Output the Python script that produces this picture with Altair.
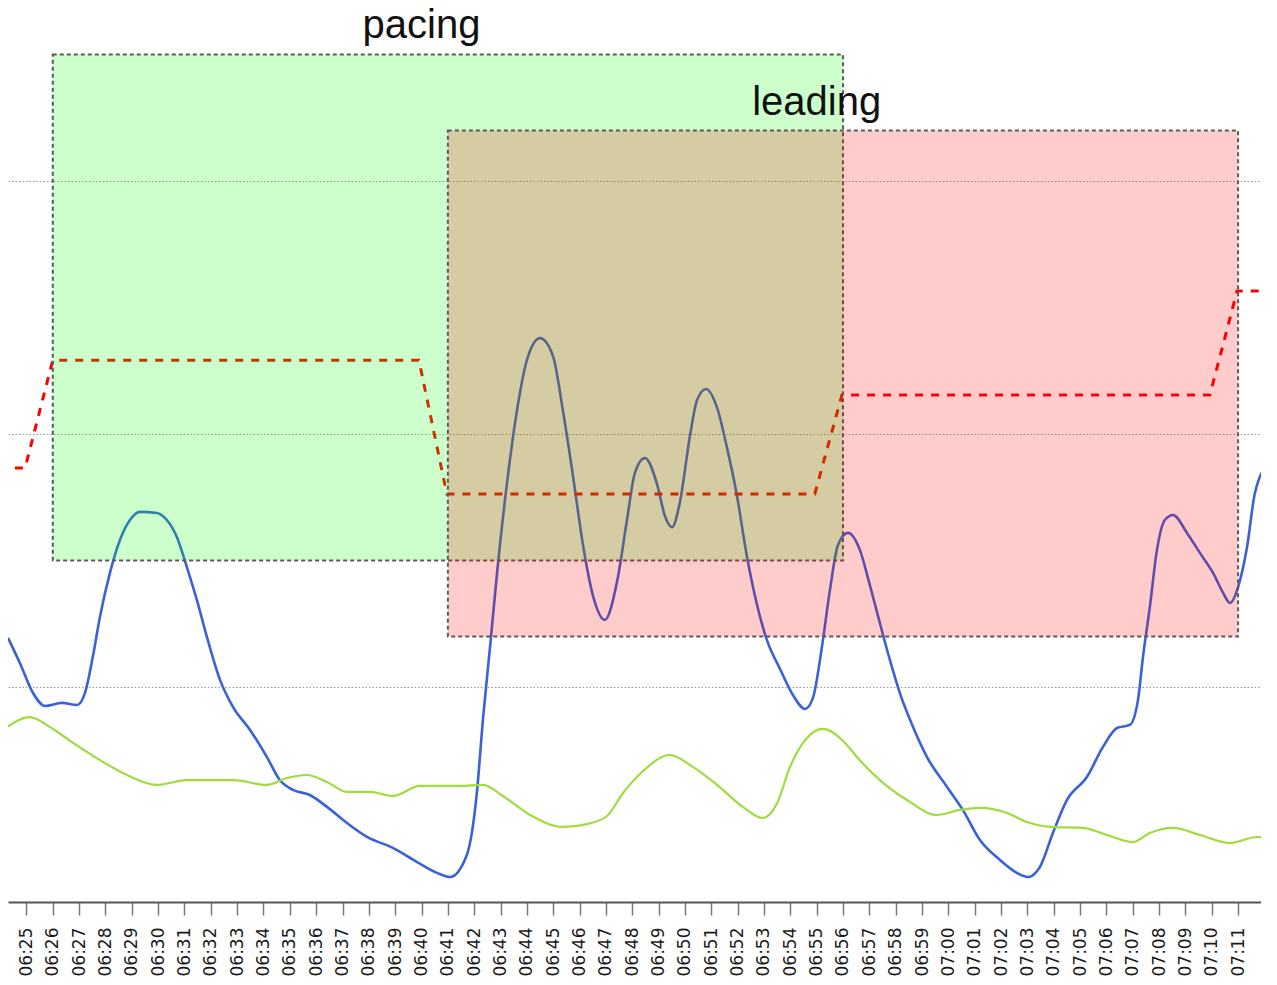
import altair as alt
import pandas as pd

# ---- tick labels (one per minute, index = minutes after 06:24) ----
tick_labels = [
    "06:24", "06:25", "06:26", "06:27", "06:28", "06:29", "06:30", "06:31",
    "06:32", "06:33", "06:34", "06:35", "06:36", "06:37", "06:38", "06:39",
    "06:40", "06:41", "06:42", "06:43", "06:44", "06:45", "06:46", "06:47",
    "06:48", "06:49", "06:50", "06:51", "06:52", "06:53", "06:54", "06:55",
    "06:56", "06:57", "06:58", "06:59", "07:00", "07:01", "07:02", "07:03",
    "07:04", "07:05", "07:06", "07:07", "07:08", "07:09", "07:10", "07:11",
    "07:12",
]

# ---- blue series (minutes after 06:24, value) ----
blue_t = [0.30, 0.75, 1.25, 1.70, 2.35, 2.92, 3.22, 3.52, 3.79, 4.17, 4.55, 4.93,
          5.31, 5.95, 6.33, 6.71, 7.09, 7.47, 7.85, 8.35, 8.84, 9.49, 10.13, 10.62,
          11.12, 11.76, 12.41, 13.17, 13.93, 14.91, 15.83, 16.59, 17.08, 17.72, 18.10,
          18.33, 18.60, 18.86, 19.24, 19.62, 20.00, 20.50, 20.99, 21.37, 21.75, 22.13,
          22.51, 22.96, 23.42, 23.80, 24.10, 24.48, 24.94, 25.24, 25.51, 25.81, 26.19,
          26.46, 26.80, 27.21, 27.59, 27.97, 28.35, 28.73, 29.11, 29.61, 30.10, 30.56,
          30.86, 31.20, 31.51, 31.81, 32.19, 32.64, 33.02, 33.40, 33.78, 34.16, 34.66,
          35.19, 35.95, 36.55, 37.20, 37.96, 38.60, 39.02, 39.48, 39.97, 40.50, 41.26,
          41.87, 42.40, 42.89, 43.20, 43.39, 43.65, 43.92, 44.22, 44.53, 45.06, 45.55,
          46.05, 46.43, 46.69, 47.00, 47.34, 47.64, 48.10, 48.48]
blue_v = [119.4, 109.5, 97.6, 92.5, 93.7, 92.9, 97.6, 111.9, 127.7, 145.1, 158.1, 166.0,
          169.2, 168.8, 166.0, 159.3, 147.4, 134.4, 119.8, 102.8, 92.1, 83.0, 72.3, 63.2,
          59.3, 57.3, 52.6, 46.2, 40.7, 36.4, 30.8, 26.5, 24.9, 33.6, 58.1,
          87.0, 115.8, 144.3, 180.2, 209.1, 229.2, 237.9, 230.8, 209.1, 183.4, 156.1,
          136.0, 126.5, 141.5, 166.0, 184.6, 190.5, 180.2, 167.6, 163.2, 173.1, 199.2,
          213.4, 217.8, 210.7, 194.9, 175.9, 151.8, 132.8, 118.6, 107.1, 96.8, 91.3,
          95.7, 115.8, 138.7, 156.1, 160.9, 154.2, 140.3, 125.3, 110.7, 97.6, 84.2,
          72.3, 60.5, 51.4, 39.5, 31.6, 26.5, 24.9, 28.9, 42.3, 55.3, 64.4,
          76.3, 83.8, 85.0, 94.9, 111.9, 131.6, 154.2, 166.0, 168.0, 160.9, 153.0,
          145.1, 137.2, 133.2, 139.5, 155.3, 176.7, 186.6, 180.6]

# ---- green series ----
green_t = [0.26, 1.13, 1.89, 2.77, 3.79, 4.82, 5.95, 7.09, 8.84, 10.13, 10.89, 11.65,
           12.41, 13.17, 14.04, 14.91, 15.94, 17.46, 18.33, 19.09, 20.12, 21.37, 22.28,
           23.04, 23.65, 24.41, 25.43, 26.30, 27.22, 28.20, 28.96, 29.49, 29.99, 30.63,
           31.24, 32.15, 32.53, 33.40, 34.43, 35.57, 36.44, 37.20, 38.23, 38.98, 39.86,
           41.11, 42.02, 43.01, 43.65, 44.53, 45.55, 46.69, 47.72, 48.48]
green_v = [84.2, 88.1, 84.2, 77.9, 71.1, 65.2, 61.3, 63.2, 63.2, 61.3, 64.0, 65.2,
           62.4, 58.5, 58.5, 56.9, 60.9, 60.9, 61.3, 56.9, 49.4, 44.7, 45.8,
           49.0, 58.1, 66.8, 73.1, 68.4, 61.3, 52.6, 48.2, 53.8, 68.4, 79.8,
           83.4, 77.1, 72.3, 63.2, 55.3, 49.4, 51.4, 52.2, 50.2, 46.6, 44.7,
           44.3, 41.5, 38.7, 42.3, 44.3, 41.5, 38.3, 40.7, 40.3]

# ---- red dashed target ----
red_t = [0.56, 0.95, 2.00, 15.90, 16.96, 30.93, 31.96, 45.93, 46.96, 48.50]
red_v = [186.6, 186.6, 229.2, 229.2, 176.3, 176.3, 215.4, 215.4, 256.5, 256.5]

# ---- zones ----
zone_names = ["pacing", "leading"]
zone_start = [2, 17]
zone_end = [32, 47]
zone_low = [150, 120]
zone_high = [350, 320]
zone_fill = ["#00ff00", "#ff0000"]
label_t = [16.0, 31.0]
label_v = [356.4, 326.1]

grid_values = [100, 200, 300]

blue_df = pd.DataFrame({"t": blue_t, "v": blue_v})
green_df = pd.DataFrame({"t": green_t, "v": green_v})
red_df = pd.DataFrame({"t": red_t, "v": red_v})
zone_df = pd.DataFrame({"zone": zone_names, "start": zone_start, "end": zone_end,
                        "low": zone_low, "high": zone_high})
label_df = pd.DataFrame({"zone": zone_names, "t": label_t, "v": label_v})

x_scale = alt.Scale(domain=[0.30, 47.87], nice=False, zero=False)
y_scale = alt.Scale(domain=[15.0, 368.4], nice=False, zero=False)

label_expr = "[" + ",".join("'%s'" % s for s in tick_labels) + "][datum.value]"

x_axis = alt.Axis(
    values=list(range(1, 48)),
    labelExpr=label_expr,
    labelAngle=270,
    labelFont="DejaVu Sans",
    labelFontSize=17,
    labelColor="#1a1a1a",
    labelPadding=12,
    labelOverlap=False,
    labelFlush=False,
    tickSize=13,
    tickColor="#777777",
    tickWidth=1.5,
    domainColor="#555555",
    domainWidth=2,
    grid=False,
    title=None,
)
y_axis = alt.Axis(
    values=grid_values,
    grid=True,
    gridDash=[1.5, 2],
    gridColor="#999999",
    gridWidth=1.2,
    labels=False,
    ticks=False,
    domain=False,
    title=None,
)


def xe(field):
    return alt.X(field + ":Q", scale=x_scale, axis=x_axis)


def ye(field):
    return alt.Y(field + ":Q", scale=y_scale, axis=y_axis)


blue = alt.Chart(blue_df).mark_line(
    color="#3a62d8", strokeWidth=2.6, interpolate="monotone", clip=True
).encode(x=xe("t"), y=ye("v"))

green = alt.Chart(green_df).mark_line(
    color="#9fdc3c", strokeWidth=2.2, interpolate="monotone", clip=True
).encode(x=xe("t"), y=ye("v"))

red = alt.Chart(red_df).mark_line(
    color="#ff0000", strokeWidth=3, strokeDash=[8, 8], clip=True
).encode(x=xe("t"), y=ye("v"))

zones = alt.Chart(zone_df).mark_rect(
    stroke="#5a5a5a", strokeDash=[4, 3], strokeWidth=2, fillOpacity=0.2, clip=True
).encode(
    x=xe("start"), x2="end", y=ye("low"), y2="high",
    fill=alt.Fill("zone:N", scale=alt.Scale(domain=zone_names, range=zone_fill), legend=None),
)

labels = alt.Chart(label_df).mark_text(
    font="Liberation Sans", fontSize=40, baseline="alphabetic", align="center", color="#111111"
).encode(x=xe("t"), y=ye("v"), text="zone:N")

chart = alt.layer(blue, green, red, zones, labels).properties(
    width=1253,
    height=894,
    autosize=alt.AutoSizeParams(type="none"),
    padding={"left": 0, "top": 0, "right": 0, "bottom": 75},
).configure_view(stroke=None)

chart.save("out.html", embed_options={"renderer": "svg", "actions": False})
